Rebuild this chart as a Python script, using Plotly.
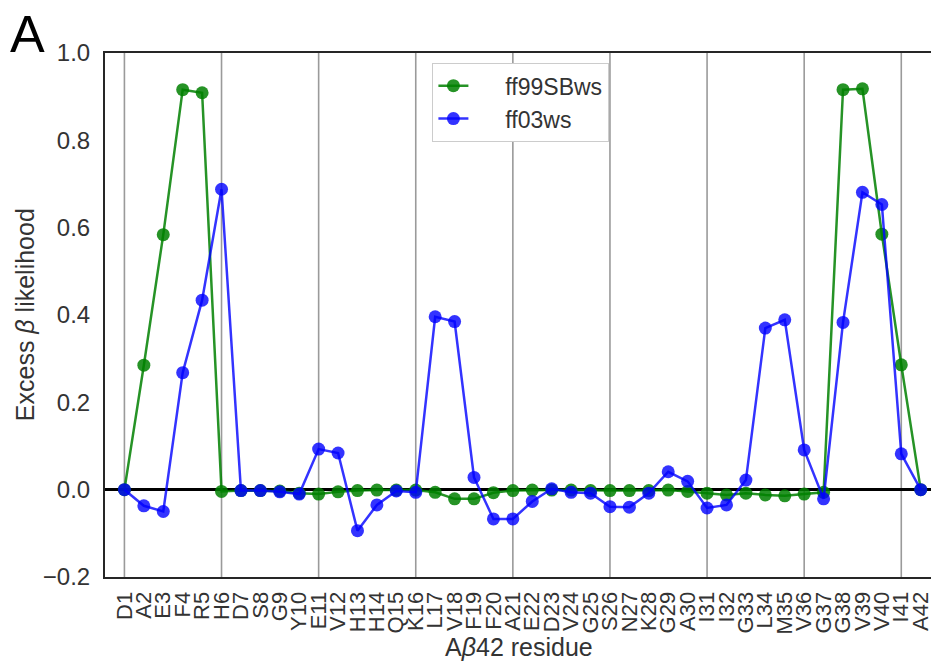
import plotly.graph_objects as go

residues = ["D1", "A2", "E3", "F4", "R5", "H6", "D7", "S8", "G9", "Y10",
            "E11", "V12", "H13", "H14", "Q15", "K16", "L17", "V18", "F19", "F20",
            "A21", "E22", "D23", "V24", "G25", "S26", "N27", "K28", "G29", "A30",
            "I31", "I32", "G33", "L34", "M35", "V36", "G37", "G38", "V39", "V40",
            "I41", "A42"]

ff99SBws = [0.0, 0.285, 0.584, 0.916, 0.909, -0.004, -0.002, -0.002, -0.003, -0.008,
            -0.010, -0.005, -0.002, -0.001, -0.001, -0.001, -0.006, -0.021, -0.021, -0.007,
            -0.002, -0.001, -0.001, -0.001, -0.002, -0.002, -0.002, -0.002, -0.001, -0.004,
            -0.008, -0.012, -0.008, -0.012, -0.014, -0.010, -0.006, 0.916, 0.918, 0.585,
            0.286, 0.0]

ff03ws = [0.0, -0.037, -0.050, 0.268, 0.434, 0.688, -0.002, -0.002, -0.005, -0.010,
          0.093, 0.084, -0.094, -0.035, -0.003, -0.006, 0.396, 0.385, 0.028, -0.067,
          -0.067, -0.027, 0.002, -0.006, -0.008, -0.039, -0.040, -0.008, 0.041, 0.019,
          -0.042, -0.035, 0.022, 0.370, 0.389, 0.091, -0.021, 0.383, 0.681, 0.653,
          0.082, 0.0]

grid_residues = residues[::5]
y_ticks = [-0.2, 0.0, 0.2, 0.4, 0.6, 0.8, 1.0]
series_names = ["ff99SBws", "ff03ws"]

FONT = "Liberation Sans, Arial, sans-serif"
TXT = "#333333"
NBSP = "\u00a0"

fig = go.Figure()
fig.add_trace(go.Scatter(
    x=residues, y=ff99SBws, name=NBSP * 5 + series_names[0], mode="lines+markers",
    line=dict(color="rgba(0,128,0,0.85)", width=2.5),
    marker=dict(color="rgba(0,128,0,0.85)", size=13)))
fig.add_trace(go.Scatter(
    x=residues, y=ff03ws, name=NBSP * 5 + series_names[1], mode="lines+markers",
    line=dict(color="rgba(0,0,255,0.8)", width=2.5),
    marker=dict(color="rgba(0,0,255,0.8)", size=13)))

for r in grid_residues:
    fig.add_shape(type="line", xref="x", yref="paper", x0=r, x1=r, y0=0, y1=1,
                  line=dict(color="#9a9a9a", width=1.6), layer="below")

fig.update_layout(
    width=933, height=663,
    margin=dict(l=105, r=0, t=53, b=86),
    plot_bgcolor="white", paper_bgcolor="white",
    font=dict(family=FONT, color=TXT),
    showlegend=True,
    legend=dict(x=(433 - 105) / 828, y=(577 - 63) / 524, xanchor="left", yanchor="top",
                bgcolor="white", bordercolor="#cccccc", borderwidth=1.2,
                font=dict(size=23, family=FONT, color=TXT)),
    xaxis=dict(type="category", range=[-1, 41.53], tickvals=residues, ticktext=residues,
               tickangle=-90, tickfont=dict(size=22), showgrid=False, ticks="",
               ticklabelstandoff=4,
               showline=True, linecolor="#262626", linewidth=2, mirror=True,
               zeroline=False),
    yaxis=dict(range=[-0.2, 1.0], tickvals=y_ticks, tickformat=".1f",
               tickfont=dict(size=24), showgrid=False, ticks="",
               ticklabelstandoff=8,
               showline=True, linecolor="#262626", linewidth=2, mirror=False,
               zeroline=True, zerolinecolor="black", zerolinewidth=3),
)

fig.add_annotation(text="Excess <i>β</i> likelihood", xref="paper", yref="paper",
                   x=(25 - 105) / 828, y=(577 - 315) / 524, textangle=-90,
                   showarrow=False, font=dict(size=25, family=FONT, color=TXT),
                   xanchor="center", yanchor="middle")
fig.add_annotation(text="A<i>β</i>42 residue", xref="paper", yref="paper",
                   x=(520 - 105) / 828, y=(577 - 662) / 524,
                   showarrow=False, font=dict(size=25, family=FONT, color=TXT),
                   xanchor="center", yanchor="bottom", borderpad=0)
fig.add_annotation(text="A", xref="paper", yref="paper",
                   x=(8 - 105) / 828, y=(577 - 34) / 524,
                   showarrow=False, font=dict(size=52, family=FONT, color="black"),
                   xanchor="left", yanchor="middle")

fig.write_html("out.html")
